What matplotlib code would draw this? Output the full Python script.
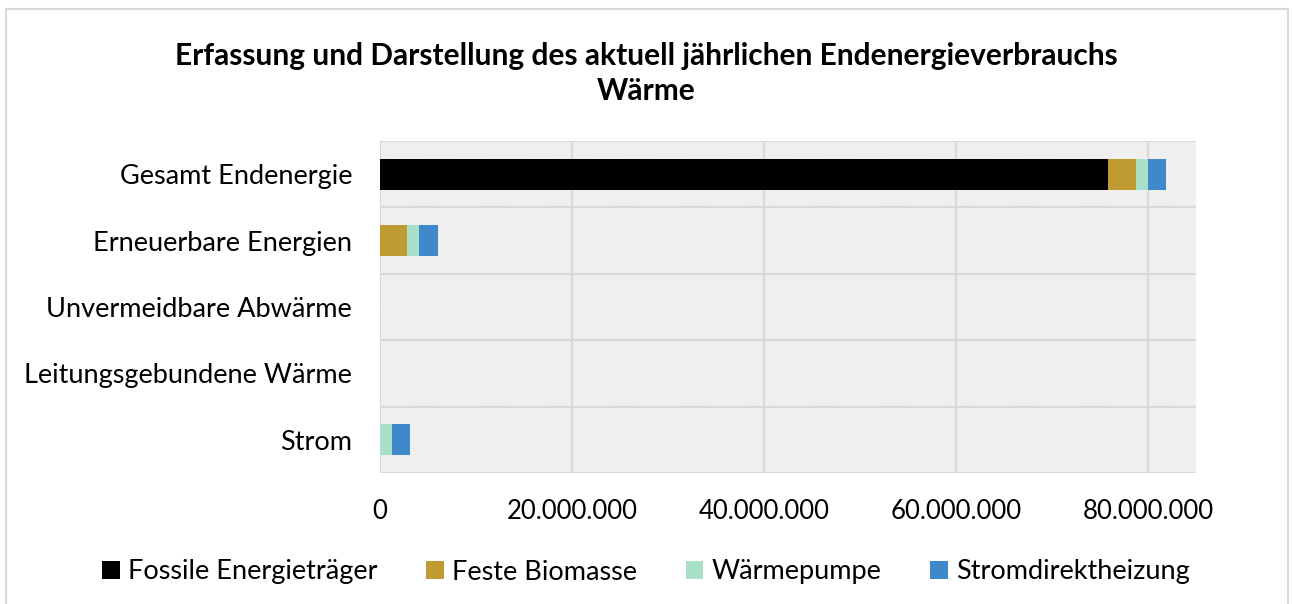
import matplotlib
matplotlib.use("Agg")
import matplotlib.pyplot as plt
from matplotlib.patches import Rectangle, Patch
from matplotlib.ticker import FuncFormatter

plt.rcParams['font.family'] = ['Lato', 'DejaVu Sans']
plt.rcParams['hatch.linewidth'] = 0.6

# data (kWh/a)
categories = ["Gesamt Endenergie", "Erneuerbare Energien", "Unvermeidbare Abwärme",
              "Leitungsgebundene Wärme", "Strom"]
series_names = ["Fossile Energieträger", "Feste Biomasse", "Wärmepumpe", "Stromdirektheizung"]
fossil = [75800000, 0, 0, 0, 0]
biomasse = [2900000, 2800000, 0, 0, 0]
waermepumpe = [1250000, 1250000, 0, 0, 1200000]
stromdirekt = [1950000, 1950000, 0, 0, 1900000]
colors = ["#000000", "#c09a32", "#a8e0c8", "#3f88c9"]
xticks = [0, 20000000, 40000000, 60000000, 80000000]

fig = plt.figure(figsize=(12.92, 6.04), dpi=100)
ax = fig.add_axes([380 / 1292, 131 / 604, 816 / 1292, 332 / 604])

# hatched plot area background
ax.add_patch(Rectangle((0, 0), 1, 1, transform=ax.transAxes, facecolor="white",
                       edgecolor="#dcdcdc", linewidth=0, hatch="\\" * 12, zorder=0))

y = list(range(len(categories)))
left = [0] * len(categories)
for vals, name, col in zip([fossil, biomasse, waermepumpe, stromdirekt], series_names, colors):
    ax.barh(y, vals, left=left, height=0.47, color=col, label=name, zorder=3)
    left = [a + b for a, b in zip(left, vals)]

# grid lines
for b in [i - 0.5 for i in range(len(categories) + 1)]:
    ax.axhline(b, color="#d9d9d9", linewidth=1.6, zorder=1)
for t in xticks:
    ax.axvline(t, color="#d9d9d9", linewidth=1.6, zorder=1)

ax.set_xlim(0, 85000000)
ax.set_ylim(len(categories) - 0.5, -0.5)
ax.set_yticks(y)
ax.set_yticklabels(categories)
ax.set_xticks(xticks)
ax.xaxis.set_major_formatter(FuncFormatter(lambda v, p: f"{int(v):,}".replace(",", ".")))
ax.tick_params(axis="both", length=0, labelsize=19.5, colors="#000000")
ax.tick_params(axis="x", pad=19, labelsize=18.5)
ax.tick_params(axis="y", pad=20)
for s in ax.spines.values():
    s.set_visible(False)

fig.text(0.5, 1 - 56 / 604, "Erfassung und Darstellung des aktuell jährlichen Endenergieverbrauchs",
         ha="center", va="center", fontsize=21.5, fontweight="bold")
fig.text(0.5, 1 - 91 / 604, "Wärme", ha="center", va="center", fontsize=21.5, fontweight="bold")

handles = [Patch(facecolor=c, edgecolor="none") for c in colors]
fig.legend(handles, series_names, loc="center", bbox_to_anchor=(0.5, 1 - 572 / 604), ncol=4,
           frameon=False, fontsize=19.5, handlelength=0.65, handleheight=0.65,
           handletextpad=0.3, columnspacing=1.8)

# chart border
fig.patches.append(Rectangle((6 / 1292, -0.05), 1282 / 1292, 1.05 - 9 / 604,
                             transform=fig.transFigure, fill=False,
                             edgecolor="#d9d9d9", linewidth=1.5))

fig.savefig("out.png", dpi=100, facecolor="white")
